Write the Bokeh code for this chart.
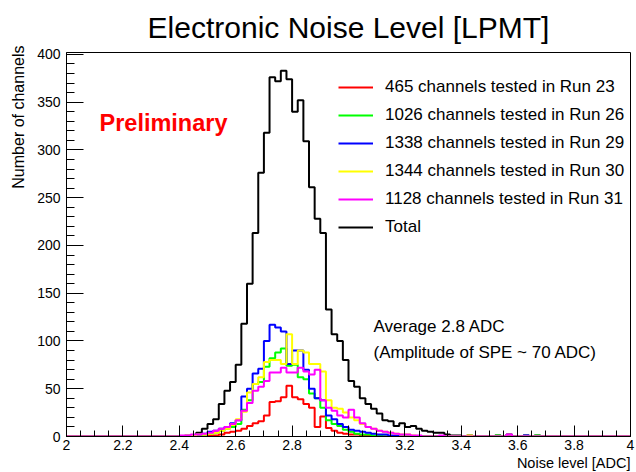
import numpy as np
from bokeh.plotting import figure
from bokeh.models import (Label, Legend, LegendItem, Range1d, FixedTicker,
                          NumeralTickFormatter, Title)
from bokeh.embed import file_html
from bokeh.resources import INLINE

# Histogram binning in ADC units
X_MIN, X_MAX = 2.0, 4.0
BIN_WIDTH = 0.02
N_BINS = 100
FIRST_BIN = 20          # listed counts start at the 2.40 ADC bin

# Channel counts per bin, from 2.40 ADC upward (0.02 ADC bins)
total = [0, 0, 1, 4, 8, 13, 18, 34, 48, 57,
         75, 118, 160, 213, 276, 318, 376, 372, 383, 374,
         340, 352, 309, 261, 228, 213, 133, 107, 100, 80,
         58, 52, 40, 34, 29, 24, 17, 16, 11, 14,
         10, 11, 8, 6, 5, 4, 4, 2, 1, 1,
         0, 1, 0, 0, 0, 0, 1, 0, 2, 0,
         0, 1, 0, 1, 0]
run23 = [0, 0, 0, 0, 0, 1, 1, 2, 4, 5,
         6, 8, 11, 14, 16, 22, 36, 37, 41, 53,
         41, 39, 34, 30, 10, 21, 9, 6, 4, 3,
         2, 2, 1, 1, 0, 0, 0, 0, 0, 0,
         0, 0, 0, 0, 0, 0, 0, 0, 0, 0,
         0, 0, 0, 0, 0, 0, 0, 0, 0, 0,
         0, 0, 0, 0, 0]
run26 = [0, 0, 1, 1, 2, 3, 4, 6, 8, 10,
         13, 28, 38, 55, 57, 73, 82, 88, 92, 74,
         75, 62, 60, 45, 40, 30, 17, 13, 11, 7,
         5, 3, 2, 2, 1, 1, 0, 0, 0, 0,
         0, 0, 0, 0, 0, 0, 0, 0, 0, 0,
         0, 0, 0, 0, 0, 0, 1, 0, 0, 0,
         0, 0, 0, 1, 0]
run29 = [0, 1, 1, 2, 3, 5, 6, 8, 10, 14,
         17, 42, 50, 66, 71, 100, 117, 114, 110, 76,
         90, 90, 70, 50, 40, 38, 22, 18, 13, 10,
         7, 6, 5, 4, 3, 2, 2, 1, 1, 0,
         0, 0, 0, 0, 0, 0, 0, 0, 0, 0,
         0, 0, 0, 0, 0, 0, 0, 0, 0, 0,
         0, 1, 0, 0, 0]
run30 = [0, 1, 1, 2, 2, 3, 4, 6, 8, 12,
         18, 26, 46, 55, 62, 78, 80, 80, 76, 107,
         76, 90, 88, 76, 76, 68, 38, 30, 29, 25,
         20, 17, 13, 10, 8, 6, 5, 4, 3, 2,
         2, 1, 0, 0, 0, 0, 0, 0, 0, 0,
         0, 1, 0, 0, 0, 0, 0, 0, 0, 0,
         0, 0, 0, 0, 0]
run31 = [1, 1, 2, 2, 3, 4, 6, 8, 10, 13,
         17, 27, 35, 48, 52, 58, 67, 67, 72, 67,
         67, 72, 68, 65, 70, 38, 30, 27, 22, 20,
         28, 20, 14, 10, 8, 6, 5, 4, 3, 2,
         2, 1, 1, 0, 0, 0, 1, 0, 0, 0,
         0, 0, 0, 0, 0, 0, 0, 0, 2, 0,
         0, 0, 0, 0, 0]

legend_labels = ["465 channels tested in Run 23",
                 "1026 channels tested in Run 26",
                 "1338 channels tested in Run 29",
                 "1344 channels tested in Run 30",
                 "1128 channels tested in Run 31",
                 "Total"]

x_ticks = [2.0, 2.2, 2.4, 2.6, 2.8, 3.0, 3.2, 3.4, 3.6, 3.8, 4.0]
y_ticks = [0, 50, 100, 150, 200, 250, 300, 350, 400]

FONT = "Liberation Sans"

edges = X_MIN + BIN_WIDTH * np.arange(N_BINS + 1)


def step_values(counts):
    full = np.zeros(N_BINS)
    full[FIRST_BIN:FIRST_BIN + len(counts)] = counts
    return np.append(full, full[-1])


p = figure(width=636, height=472, output_backend="svg", toolbar_location=None,
           x_range=Range1d(X_MIN, X_MAX), y_range=Range1d(0, 402),
           min_border_left=66, min_border_right=6,
           min_border_top=52, min_border_bottom=36,
           title="Electronic Noise Level [LPMT]")
p.title.align = "center"
p.title.text_font = FONT
p.title.text_font_size = "30px"
p.title.text_font_style = "normal"
p.title.text_color = "black"
p.title.standoff = 17

p.background_fill_color = "white"
p.border_fill_color = "white"
p.outline_line_color = "black"
p.outline_line_width = 1
p.grid.visible = False

# axes: ROOT-like inward ticks
p.xaxis.ticker = FixedTicker(ticks=x_ticks,
                             minor_ticks=list(np.round(np.arange(2.0, 4.001, 0.05), 2)))
p.yaxis.ticker = FixedTicker(ticks=y_ticks, minor_ticks=list(range(0, 401, 10)))
p.xaxis.formatter = NumeralTickFormatter(format="0.[0]")
for ax in (p.xaxis, p.yaxis):
    ax.axis_line_color = "black"
    ax.major_tick_line_color = "black"
    ax.minor_tick_line_color = "black"
    ax.major_tick_out = 0
    ax.minor_tick_out = 0
    ax.major_label_text_font = FONT
    ax.major_label_text_font_size = "14px"
    ax.major_label_text_color = "black"
p.xaxis.major_tick_in = 11
p.xaxis.minor_tick_in = 6
p.yaxis.major_tick_in = 17
p.yaxis.minor_tick_in = 8
p.xaxis.major_label_standoff = 3
p.yaxis.major_label_standoff = 6

# axis titles, pushed to the far end of each axis
p.add_layout(Title(text="Number of channels", align="right", offset=-7,
                   standoff=15, text_font=FONT, text_font_size="16px",
                   text_font_style="normal", text_color="black"), "left")
p.add_layout(Title(text="Noise level [ADC]", align="right", standoff=0,
                   text_font=FONT, text_font_size="14.5px",
                   text_font_style="normal", text_color="black"), "below")

series = [(run23, "#ff0000"), (run26, "#00ff00"), (run29, "#0000ff"),
          (run30, "#ffff00"), (run31, "#ff00ff")]

renderers = []
r_total = p.step(edges, step_values(total), mode="after",
                 line_color="black", line_width=2)
for counts, color in series:
    renderers.append(p.step(edges, step_values(counts), mode="after",
                            line_color=color, line_width=2))
renderers.append(r_total)

legend = Legend(items=[LegendItem(label=lab, renderers=[r])
                       for lab, r in zip(legend_labels, renderers)],
                location=(272, 199), orientation="vertical",
                glyph_width=35, glyph_height=20, label_height=20,
                spacing=8, label_standoff=12, padding=0, margin=0,
                border_line_color=None, background_fill_alpha=0,
                label_text_font=FONT, label_text_font_size="17px",
                label_text_color="black")
p.add_layout(legend)

# text inside the frame
p.add_layout(Label(x=33, y=301, x_units="screen", y_units="screen",
                   text="Preliminary", text_font=FONT, text_font_style="bold",
                   text_font_size="23.5px", text_color="#ff0000"))
p.add_layout(Label(x=307, y=101, x_units="screen", y_units="screen",
                   text="Average 2.8 ADC", text_font=FONT,
                   text_font_size="17px", text_color="black"))
p.add_layout(Label(x=307, y=75, x_units="screen", y_units="screen",
                   text="(Amplitude of SPE ~ 70 ADC)", text_font=FONT,
                   text_font_size="17px", text_color="black"))

open("out.html", "w").write(file_html(p, INLINE))
